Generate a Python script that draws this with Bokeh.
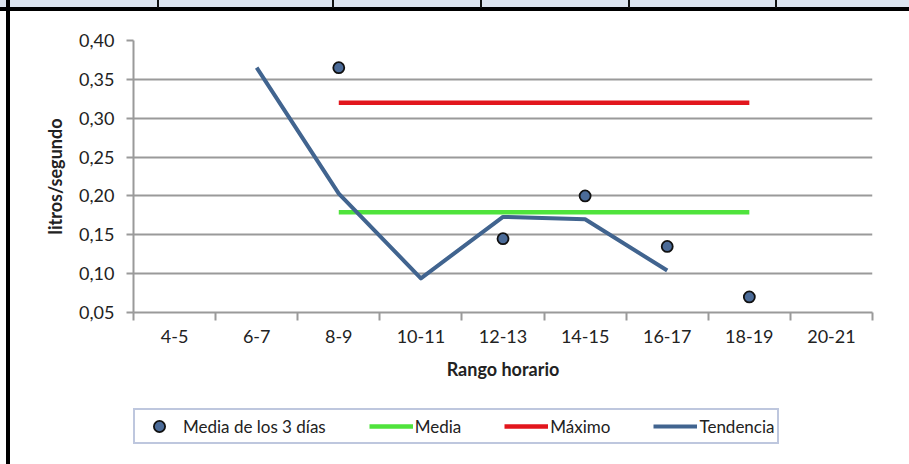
from bokeh.plotting import figure
from bokeh.models import FixedTicker, Legend, LegendItem, Range1d, ColumnDataSource
from bokeh.layouts import column
from bokeh.embed import file_html
from bokeh.resources import INLINE

# ---- data ----
categories = ["4-5", "6-7", "8-9", "10-11", "12-13", "14-15", "16-17", "18-19", "20-21"]
points_cats = ["8-9", "12-13", "14-15", "16-17", "18-19"]
points_vals = [0.365, 0.145, 0.200, 0.135, 0.070]          # Media de los 3 días
trend_cats = ["6-7", "8-9", "10-11", "12-13", "14-15", "16-17"]
trend_vals = [0.365, 0.203, 0.094, 0.173, 0.170, 0.104]     # Tendencia
ref_cats = ["8-9", "18-19"]
media_val = 0.179
maximo_val = 0.32
y_ticks = [0.05, 0.10, 0.15, 0.20, 0.25, 0.30, 0.35, 0.40]
y_tick_labels = ["0,05", "0,10", "0,15", "0,20", "0,25", "0,30", "0,35", "0,40"]
legend_labels = ["Media de los 3 días", "Media", "Máximo", "Tendencia"]

pos = {c: i + 0.5 for i, c in enumerate(categories)}

FONT = "Lato"
GRID = "#9a9a9a"
TXT = "#222222"
C_MEDIA, C_MAX, C_TREND = "#4fe33c", "#e2161d", "#41648f"
PT_FILL, PT_LINE = "#4b6b98", "#111111"

LEFT_BAR = "linear-gradient(to right, transparent 6px, #000 6px, #000 10px, transparent 10px)"

p = figure(frame_width=739, frame_height=272, output_backend="svg", toolbar_location=None,
           x_range=Range1d(0, len(categories)), y_range=Range1d(0.05, 0.40),
           min_border_left=133, min_border_right=37, min_border_top=40,
           min_border_bottom=90)
p.outline_line_color = None
p.background_fill_color = "white"
p.border_fill_color = None

# surrounding document decoration (table strip on top, black frame lines)
divs = [157, 332, 480, 628, 775]
layers = [f"linear-gradient(to right, transparent {d}px, #111 {d}px, #111 {d + 2}px, transparent {d + 2}px) 0 0 / 100% 8px no-repeat"
          for d in divs]
layers.append(LEFT_BAR)
layers.append("linear-gradient(to bottom, #dce4ef 0px, #dce4ef 7px, #000 7px, #000 11px, transparent 11px)")
p.styles = {"background": ", ".join(layers) + ", #ffffff"}

# x axis: labels at category centres, tick marks at the boundaries
p.xaxis.ticker = FixedTicker(ticks=[pos[c] for c in categories],
                             minor_ticks=list(range(len(categories) + 1)))
p.xaxis.major_label_overrides = {pos[c]: c for c in categories}
p.xaxis.major_tick_line_color = None
p.xaxis.minor_tick_line_color = GRID
p.xaxis.minor_tick_line_width = 2
p.xaxis.minor_tick_out = 8
p.xaxis.minor_tick_in = 0
p.xaxis.axis_line_color = GRID
p.xaxis.axis_line_width = 2
p.xaxis.major_label_standoff = 9
p.xaxis.axis_label = "Rango horario"
p.xaxis.axis_label_standoff = 12

p.yaxis.ticker = FixedTicker(ticks=y_ticks, minor_ticks=[])
p.yaxis.major_label_overrides = dict(zip(y_ticks, y_tick_labels))
p.yaxis.major_tick_line_color = GRID
p.yaxis.major_tick_line_width = 2
p.yaxis.major_tick_out = 7
p.yaxis.major_tick_in = 0
p.yaxis.axis_line_color = GRID
p.yaxis.axis_line_width = 2
p.yaxis.major_label_standoff = 12
p.yaxis.axis_label = "litros/segundo"
p.yaxis.axis_label_standoff = 10

for ax in (p.xaxis, p.yaxis):
    ax.major_label_text_font = FONT
    ax.major_label_text_font_size = "18px"
    ax.major_label_text_color = TXT
    ax.axis_label_text_font = FONT
    ax.axis_label_text_font_size = "18px"
    ax.axis_label_text_font_style = "bold"
    ax.axis_label_text_color = TXT

p.xgrid.grid_line_color = None
p.ygrid.ticker = FixedTicker(ticks=y_ticks)
p.ygrid.grid_line_color = GRID
p.ygrid.grid_line_width = 2


def draw_series(fig):
    """Draw the four series on a figure and return their renderers."""
    r_pts = fig.scatter(x=[pos[c] for c in points_cats], y=points_vals, size=11,
                        fill_color=PT_FILL, line_color=PT_LINE, line_width=1.8)
    r_media = fig.line([pos[c] for c in ref_cats], [media_val] * len(ref_cats),
                       line_color=C_MEDIA, line_width=4.5)
    r_max = fig.line([pos[c] for c in ref_cats], [maximo_val] * len(ref_cats),
                     line_color=C_MAX, line_width=4.5)
    r_trend = fig.line([pos[c] for c in trend_cats], trend_vals,
                       line_color=C_TREND, line_width=4, line_join="round")
    return r_pts, r_media, r_max, r_trend


# main plot: lines first, then points on top
r_pts, r_media, r_max, r_trend = draw_series(p)
p.renderers = [r_media, r_max, r_trend, r_pts]

# ---- legend strip (second figure, so the legend is not clipped) ----
# the series are drawn here too, but outside this figure's visible range;
# they only provide the legend glyphs
lg = figure(frame_width=909, frame_height=62, output_backend="svg", toolbar_location=None,
            x_axis_location=None, y_axis_location=None,
            x_range=Range1d(-30, -29), y_range=Range1d(-30, -29),
            min_border_left=0, min_border_right=0, min_border_top=0, min_border_bottom=0)
lg.grid.visible = False
lg.outline_line_color = None
lg.background_fill_color = None
lg.border_fill_color = None
lg.styles = {"background": LEFT_BAR + ", #ffffff"}

l_renderers = draw_series(lg)

legend = Legend(items=[LegendItem(label=t, renderers=[r]) for t, r in
                       zip(legend_labels, l_renderers)],
                orientation="horizontal", location=(133, 20))
legend.label_text_font = FONT
legend.label_text_font_size = "17px"
legend.label_text_color = TXT
legend.glyph_width = 44
legend.glyph_height = 28
legend.label_height = 20
legend.label_standoff = 2
legend.spacing = 43
legend.padding = 2
legend.margin = 0
legend.border_line_color = "#7d8fbd"
legend.border_line_width = 2
legend.background_fill_color = "white"
legend.background_fill_alpha = 1
lg.add_layout(legend, "center")

layout = column(p, lg, spacing=0)
open("out.html", "w").write(file_html(layout, INLINE))
